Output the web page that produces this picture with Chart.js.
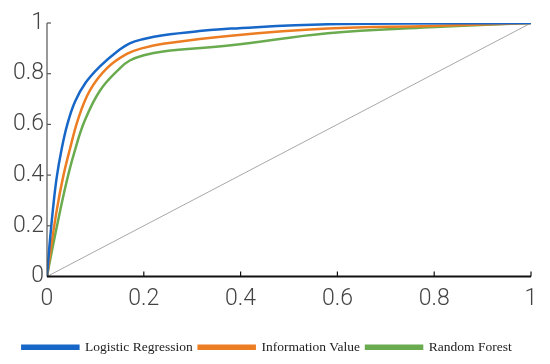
<!DOCTYPE html>
<html>
<head>
<meta charset="utf-8">
<script src="https://cdn.jsdelivr.net/npm/chart.js@4"></script>
<style>
  html, body { margin: 0; padding: 0; background: #ffffff; }
  #wrap { width: 550px; height: 364px; }
</style>
</head>
<body>
<div id="wrap"><canvas id="c" width="550" height="364"></canvas></div>
<script>
// ---- data ----
const seriesNames = ["Logistic Regression", "Information Value", "Random Forest"];
const tickValues = [0, 0.2, 0.4, 0.6, 0.8, 1];
const tickLabels = ["0", "0.2", "0.4", "0.6", "0.8", "1"];

const lrFpr = [0, 0.005, 0.012, 0.020, 0.030, 0.042, 0.058, 0.080, 0.110, 0.145, 0.171, 0.200, 0.240, 0.320, 0.380, 0.580, 1];
const lrTpr = [0, 0.120, 0.260, 0.390, 0.500, 0.600, 0.690, 0.765, 0.830, 0.888, 0.920, 0.937, 0.952, 0.969, 0.978, 0.995, 1];

const ivFpr = [0, 0.008, 0.020, 0.033, 0.047, 0.065, 0.089, 0.124, 0.165, 0.200, 0.240, 0.380, 0.580, 0.790, 1];
const ivTpr = [0, 0.110, 0.260, 0.390, 0.500, 0.625, 0.735, 0.822, 0.878, 0.902, 0.918, 0.950, 0.978, 0.988, 1];

const rfFpr = [0, 0.010, 0.025, 0.040, 0.055, 0.078, 0.110, 0.151, 0.171, 0.200, 0.240, 0.380, 0.580, 0.790, 1];
const rfTpr = [0, 0.100, 0.240, 0.370, 0.480, 0.615, 0.735, 0.822, 0.852, 0.873, 0.888, 0.912, 0.960, 0.983, 1];

const diagX = [0, 1];
const diagY = [0, 1];

const colors = ["#1667c8", "#ec7d22", "#6bab50"];

function pts(xs, ys) { return xs.map((x, i) => ({ x: x, y: ys[i] })); }

const insideTicks = {
  id: 'insideTicks',
  afterDraw(chart) {
    const ctx = chart.ctx;
    const xs = chart.scales.x, ys = chart.scales.y;
    const area = chart.chartArea;
    ctx.save();
    ctx.strokeStyle = '#555555';
    ctx.lineWidth = 1.2;
    ctx.beginPath();
    ctx.moveTo(area.left, ys.getPixelForValue(1));
    ctx.lineTo(area.left, ys.getPixelForValue(0));
    ctx.stroke();
    ys.ticks.forEach((t, i) => {
      const y = ys.getPixelForTick(i);
      ctx.beginPath();
      ctx.moveTo(area.left, y);
      ctx.lineTo(area.left + 4, y);
      ctx.stroke();
    });
    ctx.strokeStyle = '#111111';
    ctx.lineWidth = 2;
    ctx.beginPath();
    ctx.moveTo(xs.getPixelForValue(0), area.bottom);
    ctx.lineTo(xs.getPixelForValue(1), area.bottom);
    ctx.stroke();
    ctx.lineWidth = 1.2;
    xs.ticks.forEach((t, i) => {
      if (i === 0) return;
      const x = xs.getPixelForTick(i);
      ctx.beginPath();
      ctx.moveTo(x, area.bottom);
      ctx.lineTo(x, area.bottom - 5);
      ctx.stroke();
    });
    ctx.restore();
  }
};

const tickFont = { family: "Roboto, 'DejaVu Sans', sans-serif", size: 23, weight: 300 };

new Chart(document.getElementById('c'), {
  type: 'line',
  data: {
    datasets: [
      { label: seriesNames[0], data: pts(lrFpr, lrTpr), borderColor: colors[0], backgroundColor: colors[0], borderWidth: 2.5, pointRadius: 0, tension: 0.4, fill: false },
      { label: seriesNames[1], data: pts(ivFpr, ivTpr), borderColor: colors[1], backgroundColor: colors[1], borderWidth: 2.5, pointRadius: 0, tension: 0.4, fill: false },
      { label: seriesNames[2], data: pts(rfFpr, rfTpr), borderColor: colors[2], backgroundColor: colors[2], borderWidth: 2.5, pointRadius: 0, tension: 0.4, fill: false },
      { label: 'diag', data: pts(diagX, diagY), borderColor: '#a8a8a8', borderWidth: 1, pointRadius: 0, tension: 0, fill: false }
    ]
  },
  options: {
    responsive: false,
    animation: false,
    devicePixelRatio: 1,
    layout: { padding: { left: 3, right: 19, top: 23, bottom: 0 } },
    plugins: {
      tooltip: { enabled: false },
      legend: {
        position: 'bottom',
        align: 'center',
        labels: {
          filter: (item) => item.datasetIndex < 3,
          boxWidth: 56,
          boxHeight: 3,
          padding: 6,
          color: '#222222',
          font: { family: "'Liberation Serif', 'Times New Roman', serif", size: 13.5 }
        }
      }
    },
    scales: {
      x: {
        type: 'linear', min: 0, max: 1,
        afterBuildTicks: (s) => { s.ticks = tickValues.map(v => ({ value: v })); },
        afterFit: (s) => { s.height = 58; s.paddingLeft = 0; s.paddingRight = 0; },
        grid: { display: false, drawTicks: false },
        border: { display: false },
        ticks: {
          padding: 9,
          color: '#444444',
          font: tickFont,
          callback: (v) => tickLabels[tickValues.indexOf(v)] ?? ''
        }
      },
      y: {
        type: 'linear', min: 0, max: 1,
        afterBuildTicks: (s) => { s.ticks = tickValues.map(v => ({ value: v })); },
        afterFit: (s) => { s.width = 44; s.paddingTop = 0; s.paddingBottom = 0; },
        grid: { display: false, drawTicks: false },
        border: { display: false },
        ticks: {
          padding: 3,
          color: '#444444',
          font: tickFont,
          callback: (v) => tickLabels[tickValues.indexOf(v)] ?? ''
        }
      }
    }
  },
  plugins: [insideTicks]
});
</script>
</body>
</html>
